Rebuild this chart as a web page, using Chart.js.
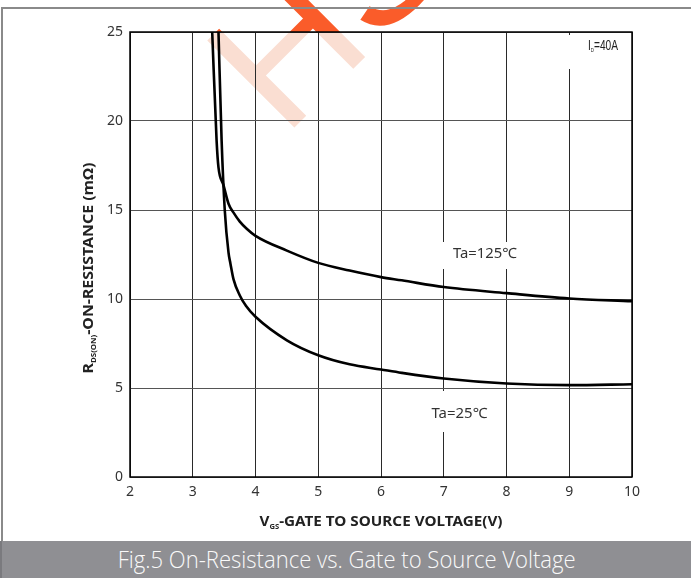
<!DOCTYPE html>
<html>
<head>
<meta charset="utf-8">
<script src="https://cdn.jsdelivr.net/npm/chart.js@4/dist/chart.umd.min.js"></script>
<style>
  html, body { margin: 0; padding: 0; background: #fff; }
  #wrap { position: relative; width: 691px; height: 578px; overflow: hidden; }
  #plot { position: absolute; left: 0; top: 0; }
  #caption {
    position: absolute; left: 0; top: 541px; width: 691px; height: 37px;
    background: #8f8f93; border-left: 2px solid #7a7a7e; box-sizing: border-box;
    color: #fafafa; font-family: "Open Sans", "Noto Sans", sans-serif; font-weight: 300; font-size: 23px;
    line-height: 37px; text-align: center; white-space: nowrap;
  }
  #caption span { display: inline-block; transform-origin: center; }
</style>
</head>
<body>
<div id="wrap">
  <canvas id="plot" width="691" height="541"></canvas>
  <div id="caption"><span id="capText">Fig.5 On-Resistance vs. Gate to Source Voltage</span></div>
</div>
<script>
// Gate-source voltage (V) and on-resistance (mΩ), Ta = 125 °C
const vgsHot = [3.31, 3.38, 3.41, 3.49, 3.57, 3.65, 3.75, 3.86, 4.0, 4.5, 5.0, 5.5, 6.0, 6.33, 7.0, 8.0, 9.0, 10.0];
const rdsHot = [25.0, 18.9, 17.4, 16.4, 15.35, 14.85, 14.35, 13.95, 13.55, 12.72, 12.03, 11.6, 11.23, 11.05, 10.67, 10.33, 10.03, 9.88];

// Gate-source voltage (V) and on-resistance (mΩ), Ta = 25 °C
const vgsRoom = [3.41, 3.46, 3.51, 3.57, 3.60, 3.65, 3.75, 3.85, 4.0, 4.5, 5.0, 5.5, 6.0, 6.33, 7.0, 8.0, 9.0, 10.0];
const rdsRoom = [25.0, 18.9, 15.0, 12.6, 12.0, 11.1, 10.2, 9.6, 9.0, 7.68, 6.84, 6.33, 6.04, 5.85, 5.53, 5.25, 5.16, 5.21];

// Axis ranges and tick steps
const xRange = [2, 10];
const xStep = 1;
const yRange = [0, 25];
const yStep = 5;

// Text drawn on the chart
const yTitle = ['R', 'DS(ON)', '-ON-RESISTANCE (mΩ)'];
const xTitle = ['V', 'GS', '-GATE TO SOURCE VOLTAGE(V)'];
const currentLabel = ['I', 'D', '=40A'];
const hotLabel = 'Ta=125℃';
const roomLabel = 'Ta=25℃';
const watermarkText = 'HS';

const toPoints = (xs, ys) => xs.map((x, i) => ({ x: x, y: ys[i] }));

const FONT = '"Noto Sans", sans-serif';

// Draws a run of text pieces (main text + subscripts) squeezed to a given width
function drawRich(ctx, parts, x, y, width, align, rotate) {
  ctx.save();
  ctx.translate(x, y);
  if (rotate) ctx.rotate(-Math.PI / 2);
  let total = 0;
  parts.forEach(p => { ctx.font = p.font; p.w = ctx.measureText(p.t).width; total += p.w; });
  const sx = width ? width / total : 1;
  ctx.scale(sx, 1);
  let cx = align === 'left' ? 0 : -total / 2;
  ctx.textBaseline = 'alphabetic';
  ctx.textAlign = 'left';
  parts.forEach(p => {
    ctx.font = p.font;
    ctx.fillStyle = p.color || '#222';
    ctx.fillText(p.t, cx, p.dy || 0);
    cx += p.w;
  });
  ctx.restore();
}

function drawWatermark(ctx, color) {
  ctx.save();
  ctx.translate(284, 138);
  ctx.rotate(-Math.PI / 4);
  ctx.font = '179px "Liberation Sans", sans-serif';
  ctx.fillStyle = color;
  ctx.textBaseline = 'alphabetic';
  ctx.fillText(watermarkText, 0, 0);
  ctx.restore();
}

const decor = {
  id: 'decor',
  beforeDraw(chart) {
    const ctx = chart.ctx;
    const a = chart.chartArea;
    const W = chart.width, H = chart.height;
    // watermark: strong outside the plot, faded inside it
    ctx.save();
    ctx.beginPath();
    ctx.rect(0, 0, W, H);
    ctx.rect(a.left, a.top, a.right - a.left, a.bottom - a.top);
    ctx.clip('evenodd');
    drawWatermark(ctx, 'rgb(250, 92, 42)');
    ctx.restore();
    ctx.save();
    ctx.beginPath();
    ctx.rect(a.left, a.top, a.right - a.left, a.bottom - a.top);
    ctx.clip();
    drawWatermark(ctx, 'rgb(250, 222, 210)');
    ctx.restore();
    // page frame
    ctx.save();
    ctx.strokeStyle = '#8a8a8a';
    ctx.lineWidth = 2;
    ctx.beginPath();
    ctx.moveTo(2, 541);
    ctx.lineTo(2, 8);
    ctx.lineTo(691, 8);
    ctx.stroke();
    ctx.restore();
  },
  beforeDatasetsDraw(chart) {
    const ctx = chart.ctx;
    ctx.save();
    ctx.fillStyle = '#fff';
    ctx.fillRect(563, 35, 65, 34);
    ctx.fillRect(440, 242, 82, 27);
    ctx.fillRect(427, 391, 65, 41);
    ctx.restore();
  },
  afterDraw(chart) {
    const ctx = chart.ctx;
    const a = chart.chartArea;
    ctx.save();
    ctx.strokeStyle = '#000';
    ctx.lineWidth = 1.5;
    ctx.strokeRect(a.left, a.top, a.right - a.left, a.bottom - a.top);
    ctx.restore();

    drawRich(ctx, [
      { t: yTitle[0], font: 'bold 14px ' + FONT },
      { t: yTitle[1], font: 'bold 7px ' + FONT, dy: 3 },
      { t: yTitle[2], font: 'bold 14px ' + FONT }
    ], 92.5, 268, 211, 'center', true);

    drawRich(ctx, [
      { t: xTitle[0], font: 'bold 14px ' + FONT },
      { t: xTitle[1], font: 'bold 7px ' + FONT, dy: 3 },
      { t: xTitle[2], font: 'bold 14px ' + FONT }
    ], 381, 526, 243, 'center', false);

    drawRich(ctx, [
      { t: currentLabel[0], font: '14px "Liberation Sans", sans-serif', color: '#222' },
      { t: currentLabel[1], font: '6px "Liberation Sans", sans-serif', dy: 2, color: '#222' },
      { t: currentLabel[2], font: '14px "Liberation Sans", sans-serif', color: '#222' }
    ], 588, 50, 30, 'left', false);

    drawRich(ctx, [{ t: hotLabel, font: '14px ' + FONT, color: '#333' }], 485, 258, 64, 'center', false);
    drawRich(ctx, [{ t: roomLabel, font: '14px ' + FONT, color: '#333' }], 459.5, 418, 56, 'center', false);
  }
};

new Chart(document.getElementById('plot'), {
  type: 'line',
  data: {
    datasets: [
      {
        label: hotLabel,
        data: toPoints(vgsHot, rdsHot),
        borderColor: '#000',
        borderWidth: 2.6,
        pointRadius: 0,
        cubicInterpolationMode: 'monotone',
        fill: false
      },
      {
        label: roomLabel,
        data: toPoints(vgsRoom, rdsRoom),
        borderColor: '#000',
        borderWidth: 2.6,
        pointRadius: 0,
        cubicInterpolationMode: 'monotone',
        fill: false
      }
    ]
  },
  options: {
    responsive: false,
    animation: false,
    events: [],
    layout: { padding: { top: 32, right: 59, left: 0, bottom: 0 } },
    plugins: { legend: { display: false }, tooltip: { enabled: false } },
    scales: {
      x: {
        type: 'linear',
        min: xRange[0],
        max: xRange[1],
        ticks: { stepSize: xStep, padding: 7, color: '#333', font: { family: FONT, size: 14 }, maxRotation: 0 },
        grid: { color: '#2a2a2a', lineWidth: 1, drawTicks: false },
        border: { display: false },
        afterFit(scale) { scale.height = 64; }
      },
      y: {
        type: 'linear',
        min: yRange[0],
        max: yRange[1],
        ticks: { stepSize: yStep, padding: 7, color: '#333', font: { family: FONT, size: 14 } },
        grid: { color: '#555', lineWidth: 1, drawTicks: false },
        border: { display: false },
        afterFit(scale) { scale.width = 130; }
      }
    }
  },
  plugins: [decor]
});

// fit the caption to its line width
(function () {
  const el = document.getElementById('capText');
  const w = el.getBoundingClientRect().width;
  el.style.transform = 'scaleX(' + (458 / w) + ')';
})();
</script>
</body>
</html>
